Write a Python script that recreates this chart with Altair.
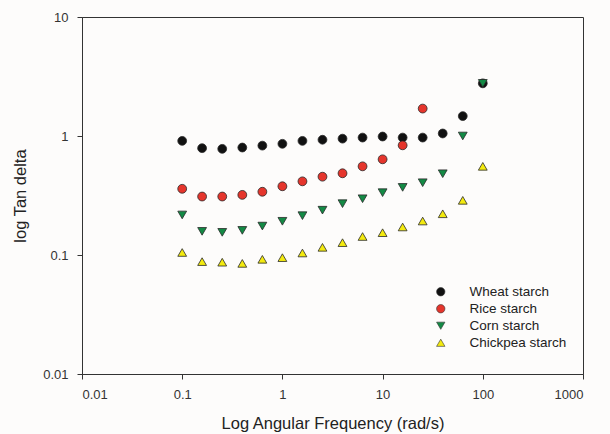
import altair as alt
import pandas as pd

freq = [0.1, 0.158, 0.251, 0.398, 0.631, 1.0, 1.585, 2.512, 3.981, 6.31,
        10.0, 15.85, 25.12, 39.81, 63.1, 100.0]

wheat = [0.91, 0.79, 0.78, 0.80, 0.83, 0.86, 0.91, 0.93, 0.95, 0.97,
         0.99, 0.97, 0.97, 1.05, 1.47, 2.77]
rice = [0.36, 0.31, 0.31, 0.32, 0.34, 0.378, 0.416, 0.455, 0.486, 0.556,
        0.637, 0.835, 1.70]
corn = [0.217, 0.158, 0.155, 0.161, 0.175, 0.192, 0.214, 0.238, 0.27, 0.297,
        0.334, 0.37, 0.405, 0.482, 1.0, 2.77]
chickpea = [0.105, 0.088, 0.087, 0.085, 0.092, 0.095, 0.104, 0.116, 0.127, 0.143,
            0.154, 0.172, 0.193, 0.222, 0.288, 0.556]

names = ["Wheat starch", "Rice starch", "Corn starch", "Chickpea starch"]
colors = ["#111111", "#e5352c", "#138a45", "#f3ea0f"]
shapes = ["circle", "circle", "triangle-down", "triangle-up"]
x_ticks = [0.01, 0.1, 1, 10, 100, 1000]
y_ticks = [0.01, 0.1, 1, 10]

rows = []
for name, series in zip(names, [wheat, rice, corn, chickpea]):
    for i, v in enumerate(series):
        rows.append({"freq": freq[i], "tan": v, "sample": name, "order": len(rows)})
df = pd.DataFrame(rows)

font = "Liberation Sans"

legend_opts = dict(title=None, orient="none", legendX=352, legendY=268,
                   labelFontSize=13.5, labelFont=font, labelColor="#222",
                   symbolSize=70, symbolStrokeWidth=0.6, symbolStrokeColor="#333333",
                   labelOffset=22, rowPadding=2)

chart = alt.Chart(df).mark_point(
    filled=True, size=78, stroke="#2a2a2a", strokeWidth=0.8, opacity=1
).encode(
    x=alt.X("freq:Q", scale=alt.Scale(type="log", domain=[0.01, 1000]),
            axis=alt.Axis(values=x_ticks, format="~g", title="Log Angular Frequency (rad/s)",
                          grid=False, titlePadding=14)),
    y=alt.Y("tan:Q", scale=alt.Scale(type="log", domain=[0.01, 10]),
            axis=alt.Axis(values=y_ticks, format="~g", title="log Tan delta",
                          grid=False, titlePadding=14)),
    color=alt.Color("sample:N", scale=alt.Scale(domain=names, range=colors),
                    legend=alt.Legend(**legend_opts)),
    shape=alt.Shape("sample:N", scale=alt.Scale(domain=names, range=shapes),
                    legend=alt.Legend(**legend_opts)),
    order=alt.Order("order:Q"),
).properties(
    width=501, height=357,
    autosize=alt.AutoSizeParams(type="none"),
    padding={"left": 82, "top": 17, "right": 27, "bottom": 60},
    background="#fdfcfb",
).configure_view(
    stroke="#333333", strokeWidth=1
).configure_axis(
    domainColor="#333333", tickColor="#333333", tickSize=5,
    labelFont=font, labelFontSize=13, labelColor="#333333", labelPadding=9,
    titleFont=font, titleFontSize=16.5, titleFontWeight="normal", titleColor="#222222",
)

chart.save("out.html", embed_options={"renderer": "svg", "actions": False})
